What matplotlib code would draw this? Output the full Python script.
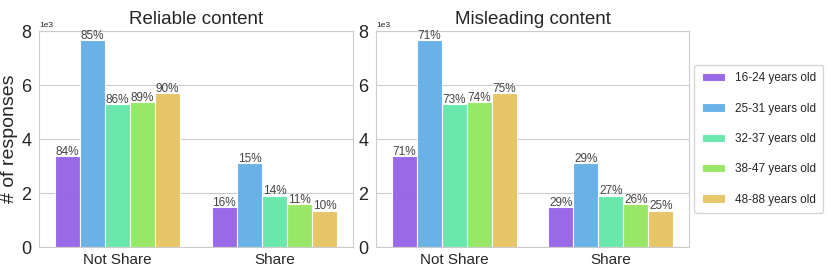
import matplotlib
matplotlib.use("Agg")
import matplotlib.pyplot as plt
import numpy as np
import seaborn as sns

sns.set_style("whitegrid")
plt.rcParams['font.family'] = ['Liberation Sans', 'DejaVu Sans']

groups = ['Not Share', 'Share']
ages = ['16-24 years old', '25-31 years old', '32-37 years old',
        '38-47 years old', '48-88 years old']
colors = ['#9461e6', '#62ade6', '#62e6a9', '#93e65f', '#e6c362']

# responses per age group: [Not Share, Share]
counts = {
    '16-24 years old': [3370, 1470],
    '25-31 years old': [7650, 3100],
    '32-37 years old': [5300, 1900],
    '38-47 years old': [5370, 1580],
    '48-88 years old': [5700, 1340],
}
pct_reliable = {
    '16-24 years old': ['84%', '16%'],
    '25-31 years old': ['85%', '15%'],
    '32-37 years old': ['86%', '14%'],
    '38-47 years old': ['89%', '11%'],
    '48-88 years old': ['90%', '10%'],
}
pct_misleading = {
    '16-24 years old': ['71%', '29%'],
    '25-31 years old': ['71%', '29%'],
    '32-37 years old': ['73%', '27%'],
    '38-47 years old': ['74%', '26%'],
    '48-88 years old': ['75%', '25%'],
}

fig = plt.figure(figsize=(8.31, 2.73), dpi=100)
ax1 = fig.add_axes([39/831, 1 - 247/273, 314/831, 216/273])
ax2 = fig.add_axes([376/831, 1 - 247/273, 313/831, 216/273])

width = 0.16
x = np.arange(len(groups))
for ax, title, pcts in [(ax1, 'Reliable content', pct_reliable),
                        (ax2, 'Misleading content', pct_misleading)]:
    for i, age in enumerate(ages):
        pos = x + (i - 2) * width
        bars = ax.bar(pos, counts[age], width, color=colors[i], alpha=0.95,
                      edgecolor='white', linewidth=0.8, label=age)
        for b, lab in zip(bars, pcts[age]):
            ax.text(b.get_x() + b.get_width() / 2, b.get_height() - 60, lab,
                    ha='center', va='bottom', fontsize=8.5, color='#444444')
    ax.set_xlim(-0.5, 1.5)
    ax.set_ylim(0, 8000)
    ax.set_xticks(x)
    ax.set_xticklabels(groups, fontsize=11)
    ax.set_yticks([0, 2000, 4000, 6000, 8000])
    ax.ticklabel_format(axis='y', style='sci', scilimits=(3, 3))
    ax.yaxis.get_offset_text().set_fontsize(6)
    ax.tick_params(axis='y', labelsize=13, pad=2)
    ax.tick_params(axis='x', pad=1)
    ax.xaxis.grid(False)
    ax.set_title(title, fontsize=13.5, pad=5)

ax1.set_ylabel('# of responses', fontsize=14, labelpad=2)
ax2.legend(loc='center left', bbox_to_anchor=(1.01, 0.5), fontsize=8.5,
           labelspacing=1.55, handlelength=2.0, handletextpad=0.85,
           borderpad=0.6, borderaxespad=0.2, frameon=True)

fig.savefig('out.png', dpi=100)
